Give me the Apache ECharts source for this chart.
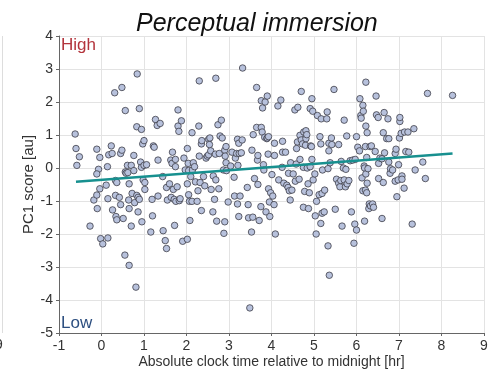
<!DOCTYPE html>
<html>
<head>
<meta charset="utf-8">
<script src="https://cdn.jsdelivr.net/npm/echarts@6/dist/echarts.min.js"></script>
<style>html,body{margin:0;padding:0;background:#fff}#c{width:500px;height:370px}</style>
</head>
<body>
<div id="c"></div>
<script>
const xs = [-0.62,-0.60,-0.52,-0.58,-0.27,-0.18,-0.11,-0.07,-0.11,-0.11,-0.10,-0.04,-0.04,-0.02,0.03,0.15,0.11,0.15,0.14,0.17,0.23,0.25,0.26,0.31,0.33,0.33,0.36,0.34,0.36,0.42,0.45,0.48,0.48,0.45,0.51,0.55,0.56,0.56,0.58,0.61,0.62,0.65,0.64,0.65,0.65,0.70,0.70,0.72,0.76,0.76,0.78,0.83,0.83,0.81,0.84,0.86,0.86,0.89,0.89,0.92,0.94,0.94,0.95,0.97,0.98,1.00,1.00,1.02,1.02,1.06,1.16,1.19,1.20,1.22,1.24,1.27,1.31,1.33,1.33,1.38,1.44,1.45,1.50,1.53,1.53,1.55,1.60,1.63,1.64,1.66,1.67,1.69,1.71,1.72,1.74,1.74,1.75,1.78,1.80,1.80,1.82,1.83,1.85,1.88,1.91,1.94,1.97,2.02,2.02,2.04,2.02,2.05,2.05,2.07,2.08,2.10,2.13,2.13,2.14,2.16,2.19,2.21,2.25,2.27,2.29,2.30,2.30,2.32,2.35,2.35,2.36,2.40,2.43,2.46,2.49,2.52,2.52,2.54,2.55,2.57,2.58,2.62,2.63,2.66,2.68,2.69,2.69,2.71,2.74,2.76,2.77,2.79,2.82,2.84,2.87,2.88,2.90,2.90,2.91,2.93,2.93,2.94,2.98,3.04,3.07,3.12,3.13,3.15,3.18,3.20,3.20,3.21,3.23,3.23,3.24,3.26,3.29,3.31,3.32,3.43,3.45,3.46,3.49,3.54,3.56,3.53,3.57,3.60,3.65,3.65,3.67,3.68,3.68,3.71,3.75,3.76,3.76,3.78,3.79,3.81,3.82,3.84,3.85,3.89,3.87,3.90,3.90,3.92,3.93,3.93,3.95,3.96,3.98,4.01,4.03,4.06,4.07,4.07,4.09,4.15,4.17,4.22,4.25,4.26,4.26,4.29,4.33,4.36,4.39,4.40,4.42,4.44,4.45,4.48,4.51,4.55,4.56,4.58,4.59,4.61,4.62,4.65,4.67,4.67,4.70,4.70,4.73,4.75,4.75,4.76,4.78,4.80,4.81,4.81,4.83,4.84,4.86,4.87,4.89,4.91,4.91,4.92,4.94,4.95,4.95,4.97,4.98,5.02,5.03,5.05,5.06,5.08,5.12,5.14,5.16,5.16,5.17,5.19,5.19,5.20,5.24,5.25,5.30,5.31,5.33,5.33,5.35,5.35,5.36,5.38,5.41,5.42,5.47,5.50,5.53,5.58,5.58,5.61,5.63,5.64,5.66,5.69,5.71,5.71,5.74,5.75,5.77,5.78,5.82,5.85,5.88,5.91,5.94,5.96,5.97,6.00,6.00,6.03,6.07,6.08,6.10,6.11,6.13,6.15,6.15,6.16,6.18,6.19,6.19,6.21,6.21,6.22,6.22,6.24,6.25,6.22,6.24,6.25,6.27,6.29,6.30,6.32,6.33,6.35,6.38,6.40,6.44,6.46,6.47,6.51,6.52,6.52,6.55,6.60,6.60,6.63,6.63,6.65,6.66,6.71,6.74,6.76,6.76,6.79,6.80,6.85,6.91,6.91,6.93,6.95,6.98,6.99,7.01,7.02,7.02,7.05,7.07,7.07,7.12,7.13,7.16,7.21,7.23,7.31,7.35,7.38,7.56,7.62,7.67,8.26];
const ys = [1.03,0.59,0.34,0.08,-1.76,-0.97,0.57,-0.04,-0.18,-0.82,-1.23,-0.63,0.32,-2.14,-2.30,-2.12,-0.52,-0.93,0.04,0.40,0.67,0.44,-1.27,2.28,-0.38,-0.83,-0.44,-1.47,-1.57,-0.89,0.44,2.44,0.54,-1.11,-1.53,-2.64,1.74,-0.12,-0.16,0.08,-0.14,-0.48,-0.97,-1.23,-2.95,0.08,-1.76,-0.77,0.38,-0.08,-1.05,1.25,-0.83,-3.61,2.85,-0.89,-1.33,1.80,-0.95,0.18,1.17,0.02,-1.63,0.73,-0.36,0.83,0.08,-0.44,-0.65,0.10,-1.94,-0.95,-1.45,0.67,0.63,1.47,1.29,-0.85,0.24,1.35,-0.26,-1.90,-2.20,-2.44,-0.59,-0.97,-0.48,0.24,-0.89,0.14,0.48,-0.65,-0.95,-1.74,0.26,0.04,-1.01,-0.57,1.76,1.27,1.11,-0.99,-0.93,1.43,-2.22,0.30,-0.06,-2.16,0.59,0.14,-0.48,-0.08,-0.81,-1.01,-1.59,-0.26,1.07,-1.01,-0.06,0.16,0.04,-0.42,-1.01,-0.69,1.27,2.64,0.36,-0.44,0.73,-1.29,0.83,-0.26,-0.54,0.30,0.36,0.40,0.87,0.71,0.91,0.52,-0.65,-1.33,-0.24,-0.95,0.42,2.72,-0.36,-1.61,1.31,-0.63,0.44,0.97,1.45,0.91,-0.06,-1.98,0.54,-1.63,0.36,0.65,0.16,-0.08,-1.03,0.06,0.48,-0.28,-0.85,0.30,0.44,0.87,-1.09,0.08,0.75,-1.47,0.44,-0.85,0.46,0.85,3.03,-0.59,-1.11,-1.51,-4.24,0.54,-1.49,-1.94,1.01,-0.32,2.44,1.23,0.24,-0.50,0.38,-1.59,-1.17,1.23,2.04,1.09,1.82,0.10,-0.06,0.93,2.00,0.89,-1.33,2.18,0.91,0.42,0.95,-0.63,-1.03,-1.47,-0.75,-0.20,-0.85,-1.11,0.38,0.75,-2.00,1.88,-0.36,2.06,0.02,0.81,0.48,-0.46,0.48,-0.52,-0.59,-0.16,-0.69,-0.97,0.16,-0.67,-0.18,1.76,-0.40,0.12,0.59,0.79,1.84,-0.34,0.26,0.99,0.85,2.32,0.73,0.02,-1.19,1.09,-0.71,0.69,0.89,1.13,1.01,0.00,-0.48,-1.23,-0.75,0.04,1.80,0.67,0.65,2.10,0.26,1.72,-0.36,-0.18,-1.45,-2.00,-1.01,1.59,-0.81,0.95,0.73,-1.68,1.49,-0.77,-1.37,-0.06,-1.33,-0.67,1.49,1.70,-2.36,-0.02,0.52,0.75,-3.25,0.16,0.91,0.71,2.38,-1.25,-0.34,-0.46,0.71,-0.57,-0.38,0.20,-1.76,0.00,1.45,-0.36,-0.57,-0.04,0.97,-0.48,-0.38,0.22,-1.33,0.24,-2.28,-1.70,0.26,-1.88,0.95,0.63,0.52,2.10,1.59,1.51,-0.30,1.90,-0.69,1.72,0.06,0.00,-1.61,0.65,-0.67,1.27,2.60,0.32,1.07,-0.18,-0.75,-0.46,-0.02,-1.23,-1.09,0.65,-1.15,0.67,-1.09,-1.19,0.50,2.18,1.61,1.53,-0.32,0.14,0.30,0.28,-1.53,1.07,-0.44,1.68,0.46,0.89,1.49,0.89,0.18,-0.16,-0.02,-0.06,-0.40,0.44,0.57,-0.87,-0.36,0.10,0.91,1.41,1.53,1.05,-0.24,-0.34,-0.61,1.09,0.50,1.09,0.48,-1.70,1.19,-0.06,0.18,-0.32,2.26,2.20];
const fitX = [-0.60, 8.26];
const fitY = [-0.42, 0.44];
const xTicks = [-1,0,1,2,3,4,5,6,7,8,9];
const yTicks = [-5,-4,-3,-2,-1,0,1,2,3,4];

const points = xs.map((x,i)=>[x, ys[i]]);
const fitLine = fitX.map((x,i)=>[x, fitY[i]]);

const chart = echarts.init(document.getElementById('c'));
const font = 'Liberation Sans, Arial, Helvetica, sans-serif';
chart.setOption({
  animation: false,
  title: {
    text: 'Perceptual immersion',
    left: 131, top: 7,
    textStyle: {fontFamily: font, fontStyle: 'italic', fontWeight: 'normal', fontSize: 25, color: '#111'}
  },
  grid: {left: 59, right: 16, top: 36, bottom: 37, containLabel: false, outerBoundsMode: 'none'},
  xAxis: {
    type: 'value', min: xTicks[0], max: xTicks[xTicks.length-1], interval: 1,
    name: 'Absolute clock time relative to midnight [hr]',
    nameLocation: 'middle', nameGap: 22, nameMoveOverlap: false,
    nameTextStyle: {fontFamily: font, fontSize: 14, color: '#333'},
    axisLine: {show: true, onZero: false, lineStyle: {color: '#666', width: 1}},
    axisTick: {show: true, length: 3, lineStyle: {color: '#666'}},
    axisLabel: {fontFamily: font, fontSize: 14, color: '#333', margin: 6},
    splitLine: {show: true, lineStyle: {color: '#e3e3e3', width: 1}}
  },
  yAxis: {
    type: 'value', min: yTicks[0], max: yTicks[yTicks.length-1], interval: 1,
    name: 'PC1 score [au]',
    nameLocation: 'middle', nameGap: 23, nameRotate: 90, nameMoveOverlap: false,
    nameTextStyle: {fontFamily: font, fontSize: 15, color: '#333'},
    axisLine: {show: true, onZero: false, lineStyle: {color: '#666', width: 1}},
    axisTick: {show: true, length: 3, lineStyle: {color: '#666'}},
    axisLabel: {fontFamily: font, fontSize: 14, color: '#333', margin: 6},
    splitLine: {show: true, lineStyle: {color: '#e3e3e3', width: 1}}
  },
  graphic: [
    {type: 'line', shape: {x1: 2.5, y1: 36, x2: 2.5, y2: 333}, style: {stroke: '#ddd', lineWidth: 1}},
    {type: 'text', left: -5, top: 338, style: {text: '9', font: '14px Liberation Sans, Arial', fill: '#333'}},
    {type: 'text', left: 61, top: 37, style: {text: 'High', font: '17px Liberation Sans, Arial', fill: '#b3343c'}},
    {type: 'text', left: 61, top: 315, style: {text: 'Low', font: '17px Liberation Sans, Arial', fill: '#2d4f80'}}
  ],
  series: [
    {
      type: 'scatter', data: points, symbol: 'circle', symbolSize: 6.5,
      itemStyle: {color: '#b7c1dc', borderColor: '#3d3d48', borderWidth: 0.8, opacity: 1},
      z: 2
    },
    {
      type: 'line', data: fitLine, showSymbol: false, symbol: 'none',
      lineStyle: {color: '#17908f', width: 2.5}, z: 3
    }
  ]
});
</script>
</body>
</html>
